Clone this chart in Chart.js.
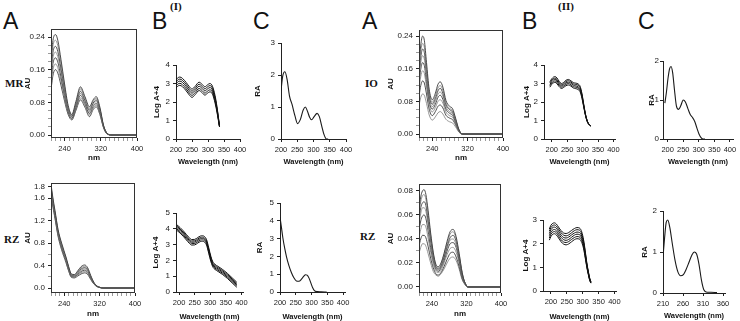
<!DOCTYPE html>
<html>
<head>
<meta charset="utf-8">
<script src="https://cdn.jsdelivr.net/npm/chart.js@4.4.1/dist/chart.umd.min.js"></script>
<style>
  body { margin: 0; background: #fff; }
  #fig { position: relative; width: 740px; height: 321px; overflow: hidden; background: #fff; }
  #fig canvas { position: absolute; }
  .big { position: absolute; font-family: "Liberation Sans", Arial, sans-serif; font-size: 23px; line-height: 23px; color: #111; }
  .tag { position: absolute; font-family: "Liberation Serif", "Times New Roman", serif; font-weight: bold; font-size: 11px; line-height: 11px; color: #111; white-space: nowrap; }
</style>
</head>
<body>
<div id="fig">
  <div class="big" style="left:3px;top:10px">A</div>
  <div class="big" style="left:152px;top:10px">B</div>
  <div class="tag" style="left:170px;top:1px">(I)</div>
  <div class="big" style="left:253px;top:10px">C</div>
  <div class="big" style="left:362px;top:10px">A</div>
  <div class="big" style="left:522px;top:10px">B</div>
  <div class="tag" style="left:558px;top:1px">(II)</div>
  <div class="big" style="left:638px;top:10px">C</div>
  <div class="tag" style="left:5px;top:78px">MR</div>
  <div class="tag" style="left:365px;top:78px">IO</div>
  <div class="tag" style="left:4px;top:234px">RZ</div>
  <div class="tag" style="left:360px;top:231px">RZ</div>
</div>
<script>
// tick labels
const absXTicks = [240, 320, 400];
const nmXTicks = [200, 250, 300, 350, 400];
const rzRaXTicks = [210, 260, 310, 360];
const topAbsYTicks = [0, 0.08, 0.16, 0.24];
const rzAbsYTicks = [0, 0.4, 0.8, 1.2, 1.6, 1.8];
const rz2AbsYTicks = [0, 0.02, 0.04, 0.06, 0.08];

// (I) MR - absorbance spectra
const mrAbsWl = [210, 215, 220, 225, 232, 240, 248, 256, 265, 275, 285, 295, 303, 310, 318, 326, 334, 345, 400];
const mrAbs = [
  [0.190, 0.236, 0.246, 0.232, 0.185, 0.125, 0.072, 0.050, 0.082, 0.118, 0.094, 0.069, 0.086, 0.094, 0.068, 0.024, 0.004, 0, 0],
  [0.177, 0.222, 0.232, 0.219, 0.175, 0.118, 0.068, 0.048, 0.078, 0.113, 0.090, 0.065, 0.082, 0.090, 0.065, 0.023, 0.004, 0, 0],
  [0.164, 0.207, 0.217, 0.205, 0.164, 0.111, 0.065, 0.046, 0.075, 0.107, 0.085, 0.061, 0.078, 0.086, 0.062, 0.022, 0.004, 0, 0],
  [0.151, 0.193, 0.203, 0.192, 0.154, 0.104, 0.061, 0.044, 0.071, 0.102, 0.081, 0.057, 0.074, 0.082, 0.059, 0.021, 0.004, 0, 0],
  [0.138, 0.179, 0.189, 0.179, 0.143, 0.097, 0.057, 0.041, 0.067, 0.097, 0.077, 0.053, 0.070, 0.077, 0.056, 0.020, 0.003, 0, 0],
  [0.125, 0.164, 0.174, 0.165, 0.133, 0.090, 0.054, 0.039, 0.064, 0.091, 0.072, 0.049, 0.066, 0.073, 0.053, 0.019, 0.003, 0, 0],
  [0.112, 0.150, 0.160, 0.152, 0.122, 0.083, 0.050, 0.037, 0.060, 0.086, 0.068, 0.045, 0.062, 0.069, 0.050, 0.018, 0.003, 0, 0]
];
// MR - log A + 4
const mrLogWl = [200, 205, 212, 220, 232, 242, 250, 260, 272, 282, 290, 298, 306, 314, 322, 328, 332, 336];
const mrLog = [
  [3.20, 3.30, 3.35, 3.28, 3.05, 2.82, 2.70, 2.85, 3.07, 2.95, 2.82, 2.92, 3.00, 2.85, 2.35, 1.75, 1.25, 0.70],
  [3.09, 3.19, 3.24, 3.17, 2.94, 2.71, 2.59, 2.74, 2.96, 2.84, 2.71, 2.81, 2.89, 2.74, 2.25, 1.68, 1.20, 0.69],
  [2.98, 3.08, 3.13, 3.06, 2.83, 2.60, 2.48, 2.63, 2.85, 2.73, 2.60, 2.70, 2.78, 2.64, 2.15, 1.60, 1.15, 0.68],
  [2.86, 2.96, 3.01, 2.94, 2.71, 2.48, 2.36, 2.51, 2.73, 2.61, 2.48, 2.58, 2.66, 2.53, 2.05, 1.52, 1.10, 0.66],
  [2.75, 2.85, 2.90, 2.83, 2.60, 2.37, 2.25, 2.40, 2.62, 2.50, 2.37, 2.47, 2.55, 2.42, 1.95, 1.45, 1.05, 0.65]
];
// MR - relative absorbance
const mrRaWl = [200, 205, 212, 219, 226, 234, 243, 251, 260, 268, 275, 282, 288, 294, 302, 311, 318, 325, 333, 340, 345];
const mrRa = [1.50, 1.95, 2.10, 1.85, 1.35, 1.08, 0.72, 0.48, 0.62, 0.90, 1.00, 0.85, 0.68, 0.60, 0.70, 0.80, 0.70, 0.42, 0.12, 0.0, 0.0];

// (I) RZ
const rzAbsWl = [210, 214, 219, 226, 234, 244, 250, 256, 263, 270, 278, 286, 293, 300, 307, 314, 321, 328, 400];
const rzAbs = [
  [1.85, 1.62, 1.38, 1.04, 0.80, 0.55, 0.38, 0.25, 0.24, 0.30, 0.38, 0.41, 0.36, 0.22, 0.10, 0.035, 0.010, 0, 0],
  [1.82, 1.59, 1.36, 1.02, 0.78, 0.53, 0.37, 0.24, 0.23, 0.285, 0.358, 0.387, 0.34, 0.208, 0.095, 0.033, 0.010, 0, 0],
  [1.79, 1.57, 1.33, 1.00, 0.76, 0.52, 0.353, 0.23, 0.22, 0.27, 0.337, 0.363, 0.32, 0.197, 0.090, 0.032, 0.009, 0, 0],
  [1.765, 1.54, 1.31, 0.98, 0.74, 0.50, 0.34, 0.22, 0.21, 0.255, 0.315, 0.34, 0.30, 0.185, 0.085, 0.030, 0.009, 0, 0],
  [1.737, 1.513, 1.287, 0.96, 0.72, 0.483, 0.327, 0.21, 0.20, 0.24, 0.293, 0.317, 0.28, 0.173, 0.080, 0.028, 0.009, 0, 0],
  [1.708, 1.487, 1.263, 0.94, 0.70, 0.467, 0.313, 0.20, 0.19, 0.225, 0.272, 0.293, 0.26, 0.162, 0.075, 0.027, 0.008, 0, 0],
  [1.68, 1.46, 1.24, 0.92, 0.68, 0.45, 0.30, 0.19, 0.18, 0.21, 0.25, 0.27, 0.24, 0.15, 0.070, 0.025, 0.008, 0, 0]
];
const rzLogWl = [193, 203, 213, 223, 232, 240, 250, 260, 268, 275, 282, 288, 295, 302, 309, 315, 325, 340, 355, 370, 385];
const rzLog = [
  [4.25, 4.08, 3.88, 3.65, 3.45, 3.32, 3.33, 3.45, 3.54, 3.56, 3.50, 3.32, 2.80, 2.25, 1.88, 1.75, 1.62, 1.42, 1.18, 0.90, 0.62],
  [4.16, 3.99, 3.79, 3.56, 3.36, 3.23, 3.24, 3.36, 3.45, 3.47, 3.41, 3.23, 2.71, 2.17, 1.80, 1.67, 1.54, 1.34, 1.10, 0.82, 0.54],
  [4.08, 3.91, 3.71, 3.48, 3.28, 3.15, 3.16, 3.28, 3.37, 3.39, 3.33, 3.15, 2.63, 2.09, 1.72, 1.59, 1.46, 1.26, 1.02, 0.74, 0.46],
  [3.99, 3.82, 3.62, 3.39, 3.19, 3.06, 3.07, 3.19, 3.28, 3.30, 3.24, 3.06, 2.54, 2.00, 1.64, 1.51, 1.38, 1.18, 0.94, 0.66, 0.38],
  [3.90, 3.73, 3.53, 3.30, 3.10, 2.97, 2.98, 3.10, 3.19, 3.21, 3.15, 2.97, 2.45, 1.92, 1.56, 1.43, 1.30, 1.10, 0.86, 0.58, 0.30]
];
const rzRaWl = [200, 204, 209, 215, 221, 228, 236, 244, 252, 260, 268, 275, 281, 286, 292, 298, 304, 310, 318, 330, 348];
const rzRa = [4.20, 3.70, 3.05, 2.45, 1.95, 1.50, 1.10, 0.80, 0.62, 0.60, 0.72, 0.88, 0.97, 0.95, 0.78, 0.50, 0.22, 0.06, 0.02, 0.01, 0.0];

// (II) IO
const ioAbsWl = [210, 214, 218, 222, 227, 233, 240, 247, 253, 258, 264, 271, 279, 286, 293, 300, 308, 400];
const ioAbs = [
  [0.170, 0.218, 0.240, 0.230, 0.175, 0.110, 0.084, 0.100, 0.122, 0.128, 0.115, 0.082, 0.068, 0.062, 0.038, 0.012, 0, 0],
  [0.157, 0.202, 0.222, 0.213, 0.162, 0.102, 0.078, 0.093, 0.113, 0.119, 0.107, 0.076, 0.063, 0.058, 0.035, 0.011, 0, 0],
  [0.148, 0.189, 0.208, 0.200, 0.153, 0.096, 0.073, 0.087, 0.106, 0.112, 0.100, 0.072, 0.060, 0.054, 0.033, 0.010, 0, 0],
  [0.136, 0.175, 0.192, 0.184, 0.141, 0.089, 0.067, 0.080, 0.098, 0.103, 0.093, 0.067, 0.055, 0.050, 0.031, 0.010, 0, 0],
  [0.124, 0.159, 0.175, 0.168, 0.129, 0.081, 0.061, 0.073, 0.090, 0.095, 0.085, 0.061, 0.051, 0.046, 0.028, 0.009, 0, 0],
  [0.110, 0.141, 0.155, 0.149, 0.115, 0.072, 0.054, 0.065, 0.080, 0.084, 0.076, 0.054, 0.045, 0.041, 0.025, 0.008, 0, 0],
  [0.093, 0.119, 0.130, 0.125, 0.098, 0.061, 0.045, 0.055, 0.068, 0.071, 0.064, 0.046, 0.039, 0.035, 0.022, 0.007, 0, 0],
  [0.070, 0.090, 0.098, 0.095, 0.075, 0.047, 0.034, 0.042, 0.052, 0.055, 0.049, 0.036, 0.030, 0.027, 0.017, 0.005, 0, 0]
];
const ioLogWl = [194, 200, 206, 211, 217, 224, 232, 238, 246, 254, 262, 270, 278, 285, 292, 298, 304, 310, 316, 322, 326];
const ioLog = [
  [3.10, 3.25, 3.35, 3.37, 3.30, 3.12, 3.00, 3.05, 3.17, 3.22, 3.15, 3.05, 3.02, 2.98, 2.85, 2.45, 1.85, 1.30, 0.95, 0.78, 0.72],
  [3.03, 3.18, 3.27, 3.29, 3.22, 3.05, 2.93, 2.98, 3.10, 3.15, 3.08, 2.98, 2.95, 2.91, 2.78, 2.39, 1.81, 1.28, 0.94, 0.77, 0.72],
  [2.95, 3.10, 3.20, 3.22, 3.15, 2.98, 2.87, 2.92, 3.03, 3.07, 3.01, 2.91, 2.87, 2.83, 2.70, 2.33, 1.78, 1.26, 0.93, 0.77, 0.71],
  [2.88, 3.03, 3.12, 3.14, 3.07, 2.90, 2.80, 2.85, 2.95, 3.00, 2.93, 2.83, 2.80, 2.76, 2.63, 2.26, 1.74, 1.24, 0.91, 0.76, 0.71],
  [2.80, 2.95, 3.04, 3.06, 2.99, 2.83, 2.73, 2.78, 2.88, 2.92, 2.86, 2.76, 2.72, 2.68, 2.55, 2.20, 1.70, 1.22, 0.90, 0.75, 0.70]
];
const ioRaWl = [191, 196, 201, 206, 211, 216, 222, 228, 235, 242, 250, 257, 265, 273, 280, 287, 294, 301, 308, 314, 320];
const ioRa = [0.92, 1.20, 1.55, 1.80, 1.86, 1.70, 1.25, 0.85, 0.76, 0.85, 1.00, 0.95, 0.78, 0.62, 0.55, 0.45, 0.28, 0.12, 0.03, 0.0, 0.0];

// (II) RZ
const rz2AbsWl = [210, 214, 218, 222, 226, 231, 237, 243, 249, 255, 261, 268, 275, 282, 289, 296, 303, 310, 317, 324, 400];
const rz2Abs = [
  [0.064, 0.075, 0.080, 0.081, 0.077, 0.064, 0.045, 0.029, 0.019, 0.017, 0.020, 0.028, 0.038, 0.046, 0.048, 0.042, 0.028, 0.012, 0.003, 0, 0],
  [0.061, 0.071, 0.076, 0.077, 0.073, 0.061, 0.043, 0.028, 0.018, 0.016, 0.019, 0.027, 0.036, 0.044, 0.046, 0.040, 0.027, 0.012, 0.003, 0, 0],
  [0.056, 0.066, 0.070, 0.071, 0.068, 0.056, 0.040, 0.026, 0.017, 0.015, 0.018, 0.025, 0.034, 0.041, 0.043, 0.038, 0.025, 0.011, 0.003, 0, 0],
  [0.052, 0.061, 0.066, 0.066, 0.063, 0.052, 0.037, 0.024, 0.016, 0.014, 0.017, 0.024, 0.032, 0.039, 0.040, 0.035, 0.024, 0.010, 0.003, 0, 0],
  [0.047, 0.055, 0.059, 0.060, 0.057, 0.047, 0.033, 0.022, 0.015, 0.013, 0.016, 0.022, 0.030, 0.036, 0.037, 0.033, 0.022, 0.009, 0.003, 0, 0],
  [0.041, 0.048, 0.052, 0.052, 0.050, 0.041, 0.029, 0.019, 0.013, 0.012, 0.014, 0.020, 0.027, 0.032, 0.033, 0.029, 0.020, 0.008, 0.002, 0, 0],
  [0.034, 0.040, 0.043, 0.043, 0.041, 0.034, 0.024, 0.016, 0.011, 0.010, 0.012, 0.017, 0.023, 0.028, 0.029, 0.025, 0.017, 0.007, 0.002, 0, 0],
  [0.028, 0.033, 0.036, 0.036, 0.034, 0.028, 0.020, 0.013, 0.010, 0.009, 0.011, 0.015, 0.020, 0.024, 0.025, 0.022, 0.015, 0.006, 0.002, 0, 0]
];
const rz2LogWl = [195, 200, 206, 211, 217, 224, 232, 240, 248, 256, 265, 274, 282, 290, 297, 303, 308, 313, 318, 322, 326];
const rz2Log = [
  [2.62, 2.78, 2.86, 2.88, 2.83, 2.70, 2.55, 2.45, 2.43, 2.47, 2.56, 2.64, 2.68, 2.66, 2.50, 2.15, 1.70, 1.20, 0.82, 0.55, 0.40],
  [2.53, 2.68, 2.77, 2.79, 2.74, 2.61, 2.46, 2.36, 2.33, 2.37, 2.46, 2.55, 2.59, 2.57, 2.41, 2.08, 1.64, 1.16, 0.79, 0.53, 0.39],
  [2.43, 2.59, 2.68, 2.70, 2.65, 2.52, 2.36, 2.26, 2.24, 2.28, 2.37, 2.45, 2.49, 2.47, 2.32, 2.00, 1.58, 1.12, 0.76, 0.51, 0.37],
  [2.34, 2.49, 2.58, 2.60, 2.55, 2.42, 2.27, 2.17, 2.14, 2.18, 2.27, 2.36, 2.40, 2.38, 2.23, 1.93, 1.52, 1.08, 0.74, 0.49, 0.36],
  [2.24, 2.40, 2.49, 2.51, 2.46, 2.33, 2.17, 2.07, 2.05, 2.09, 2.18, 2.26, 2.30, 2.28, 2.14, 1.85, 1.46, 1.04, 0.71, 0.47, 0.34],
  [2.15, 2.30, 2.40, 2.42, 2.37, 2.24, 2.08, 1.98, 1.95, 1.99, 2.08, 2.17, 2.21, 2.19, 2.05, 1.78, 1.40, 1.00, 0.68, 0.45, 0.33]
];
const rz2RaWl = [210, 214, 218, 222, 227, 233, 240, 247, 254, 261, 268, 275, 282, 288, 294, 300, 306, 312, 320, 330, 345];
const rz2Ra = [0.88, 1.35, 1.72, 1.78, 1.60, 1.22, 0.80, 0.52, 0.42, 0.45, 0.58, 0.75, 0.92, 1.00, 0.95, 0.70, 0.32, 0.08, 0.02, 0.02, 0.01];

const family = '"Liberation Sans", Arial, sans-serif';
Chart.defaults.font.family = family;
Chart.defaults.color = '#222';

const absColors = ['#3a3a3a', '#8a8a8a'];
const logColors = ['#111'];
const raColors = ['#1a1a1a'];

// box round the absorbance panels
const framePlugin = {
  id: 'frame',
  afterDatasetsDraw(chart, args, opts) {
    if (!opts.on) return;
    const a = chart.chartArea, ctx = chart.ctx;
    ctx.save();
    ctx.strokeStyle = '#333';
    ctx.lineWidth = 1;
    ctx.strokeRect(a.left + 0.5, a.top + 0.5, a.right - a.left - 1, a.bottom - a.top - 1);
    ctx.restore();
  }
};

function isIn(list, v) {
  return list.some(l => Math.abs(l - v) < 1e-7);
}

function tickValues(labels, minor, min, max) {
  const vals = labels.slice();
  if (minor) {
    for (let v = Math.ceil(min / minor) * minor; v <= max + 1e-9; v += minor) {
      const r = +v.toFixed(6);
      if (!isIn(vals, r)) vals.push(r);
    }
  }
  return vals.sort((a, b) => a - b);
}

function makePanel(p) {
  const fig = document.getElementById('fig');
  const padT = 8, padR = 10;
  const cw = p.yW + (p.r - p.l) + padR;
  const ch = padT + (p.b - p.t) + p.xH;
  const cv = document.createElement('canvas');
  cv.width = cw; cv.height = ch;
  cv.style.left = (p.l - p.yW) + 'px';
  cv.style.top = (p.t - padT) + 'px';
  cv.style.width = cw + 'px';
  cv.style.height = ch + 'px';
  fig.appendChild(cv);

  const series = p.single ? [p.series] : p.series;
  const datasets = series.map((ys, i) => ({
    data: p.wl.map((x, j) => ({ x: x, y: ys[j] })),
    borderColor: p.colors[i % p.colors.length],
    borderWidth: p.lw,
    pointRadius: 0,
    fill: false,
    cubicInterpolationMode: 'monotone'
  }));

  const xFont = { size: 7.5, family: family };
  const yFont = { size: 8, family: family };

  new Chart(cv, {
    type: 'line',
    data: { datasets: datasets },
    options: {
      responsive: false,
      animation: false,
      devicePixelRatio: 1,
      layout: { padding: { left: 0, top: padT, right: padR, bottom: 0 } },
      plugins: {
        legend: { display: false },
        tooltip: { enabled: false },
        frame: { on: !!p.box }
      },
      scales: {
        x: {
          type: 'linear',
          min: p.xMin,
          max: p.xMax,
          afterBuildTicks: ax => {
            ax.ticks = tickValues(p.xTicks, p.xMinor, p.xMin, p.xMax).map(v => ({ value: v }));
          },
          afterFit: ax => {
            ax.height = p.xH;
            ax.paddingLeft = 0; ax.paddingRight = 0;
          },
          ticks: {
            autoSkip: false, maxRotation: 0, minRotation: 0, padding: 3,
            color: '#222', font: xFont,
            callback: v => isIn(p.xTicks, v) ? String(v) : ''
          },
          grid: {
            display: true, drawOnChartArea: false, drawTicks: true, tickLength: 3,
            color: '#222',
            tickColor: c => (c.tick && !isIn(p.xTicks, c.tick.value)) ? '#9a9a9a' : '#222'
          },
          border: { display: !p.box, color: '#222', width: 1 },
          title: {
            display: true, text: p.xTitle, color: '#111', padding: 0,
            font: { size: p.xTitleSize, weight: 'bold', family: family }
          }
        },
        y: {
          min: p.yMin,
          max: p.yMax,
          afterBuildTicks: ax => {
            ax.ticks = tickValues(p.yTicks, p.yMinor, p.yMin, p.yMax).map(v => ({ value: v }));
          },
          afterFit: ax => {
            ax.width = p.yW;
            ax.paddingTop = 0; ax.paddingBottom = 0;
          },
          ticks: {
            autoSkip: false, padding: p.yPad === undefined ? 3 : p.yPad,
            color: '#222', font: yFont,
            callback: v => isIn(p.yTicks, v) ? v.toFixed(p.yDigits) : ''
          },
          grid: {
            display: true, drawOnChartArea: false, drawTicks: true, tickLength: 3,
            color: '#222',
            tickColor: c => (c.tick && !isIn(p.yTicks, c.tick.value)) ? '#9a9a9a' : '#222'
          },
          border: { display: !p.box, color: '#222', width: 1 },
          title: {
            display: true, text: p.yTitle, color: '#111', padding: 0,
            font: { size: 8, weight: 'bold', family: family }
          }
        }
      }
    },
    plugins: [framePlugin]
  });
}

const wlTitle = 'Wavelength (nm)';
const panels = [
  // (I) MR
  { l: 51, t: 29, r: 137, b: 138, yW: 28, xH: 25, xMin: 210, xMax: 400, xTicks: absXTicks, xMinor: 10,
    yMin: -0.0073, yMax: 0.2596, yTicks: topAbsYTicks, yMinor: 0.02, yDigits: 2,
    yTitle: 'AU', xTitle: 'nm', xTitleSize: 8, box: true, wl: mrAbsWl, series: mrAbs, colors: absColors, lw: 0.9 },
  { l: 176, t: 65, r: 240, b: 139, yW: 24, xH: 27, xMin: 200, xMax: 400, xTicks: nmXTicks,
    yMin: 0, yMax: 4, yTicks: [0, 1, 2, 3, 4], yDigits: 0,
    yTitle: 'Log A+4', xTitle: wlTitle, xTitleSize: 7.5, wl: mrLogWl, series: mrLog, colors: logColors, lw: 1 },
  { l: 281, t: 43, r: 346, b: 139, yW: 28, xH: 27, xMin: 200, xMax: 400, xTicks: nmXTicks,
    yMin: 0, yMax: 3, yTicks: [0, 1, 2, 3], yDigits: 0,
    yTitle: 'RA', xTitle: wlTitle, xTitleSize: 7.5, wl: mrRaWl, series: mrRa, single: true, colors: raColors, lw: 1.1 },
  // (II) IO
  { l: 419, t: 30, r: 503, b: 138, yW: 33, xH: 25, xMin: 210, xMax: 400, xTicks: absXTicks, xMinor: 10,
    yMin: -0.0098, yMax: 0.255, yTicks: topAbsYTicks, yMinor: 0.02, yDigits: 2,
    yTitle: 'AU', xTitle: 'nm', xTitleSize: 8, box: true, wl: ioAbsWl, series: ioAbs, colors: absColors, lw: 0.9 },
  { l: 544, t: 65, r: 615, b: 139, yW: 22, xH: 27, xMin: 175, xMax: 405, xTicks: nmXTicks,
    yMin: 0, yMax: 4, yTicks: [0, 1, 2, 3, 4], yDigits: 0,
    yTitle: 'Log A+4', xTitle: wlTitle, xTitleSize: 7.5, wl: ioLogWl, series: ioLog, colors: logColors, lw: 1 },
  { l: 663, t: 61, r: 733, b: 139, yW: 16, xH: 27, xMin: 185, xMax: 410, xTicks: nmXTicks,
    yMin: 0, yMax: 2, yTicks: [0, 1, 2], yDigits: 0, yPad: 1,
    yTitle: 'RA', xTitle: wlTitle, xTitleSize: 7.5, wl: ioRaWl, series: ioRa, single: true, colors: raColors, lw: 1.1 },
  // (I) RZ
  { l: 51, t: 183, r: 135, b: 293, yW: 28, xH: 26, xMin: 210, xMax: 400, xTicks: absXTicks, xMinor: 10,
    yMin: -0.089, yMax: 1.87, yTicks: rzAbsYTicks, yMinor: 0.2, yDigits: 1,
    yTitle: 'AU', xTitle: 'nm', xTitleSize: 8, box: true, wl: rzAbsWl, series: rzAbs, colors: absColors, lw: 0.9 },
  { l: 176, t: 213, r: 243, b: 292, yW: 25, xH: 29, xMin: 190, xMax: 405, xTicks: nmXTicks,
    yMin: 0, yMax: 5, yTicks: [0, 1, 2, 3, 4, 5], yDigits: 0,
    yTitle: 'Log A+4', xTitle: wlTitle, xTitleSize: 7.5, wl: rzLogWl, series: rzLog, colors: logColors, lw: 1 },
  { l: 280, t: 203, r: 345, b: 292, yW: 25, xH: 29, xMin: 200, xMax: 406, xTicks: nmXTicks,
    yMin: 0, yMax: 5, yTicks: [0, 1, 2, 3, 4, 5], yDigits: 0,
    yTitle: 'RA', xTitle: wlTitle, xTitleSize: 7.5, wl: rzRaWl, series: rzRa, single: true, colors: raColors, lw: 1.1 },
  // (II) RZ
  { l: 419, t: 184, r: 501, b: 293, yW: 33, xH: 26, xMin: 210, xMax: 400, xTicks: absXTicks, xMinor: 10,
    yMin: -0.005, yMax: 0.0858, yTicks: rz2AbsYTicks, yMinor: 0.01, yDigits: 2,
    yTitle: 'AU', xTitle: 'nm', xTitleSize: 8, box: true, wl: rz2AbsWl, series: rz2Abs, colors: absColors, lw: 0.9 },
  { l: 543, t: 220, r: 616, b: 291, yW: 22, xH: 30, xMin: 175, xMax: 405, xTicks: nmXTicks,
    yMin: 0, yMax: 3, yTicks: [0, 1, 2, 3], yDigits: 0,
    yTitle: 'Log A+4', xTitle: wlTitle, xTitleSize: 7.5, wl: rz2LogWl, series: rz2Log, colors: logColors, lw: 1 },
  { l: 663, t: 211, r: 725, b: 293, yW: 23, xH: 27, xMin: 210, xMax: 365, xTicks: rzRaXTicks,
    yMin: 0, yMax: 2, yTicks: [0, 1, 2], yDigits: 0,
    yTitle: 'RA', xTitle: wlTitle, xTitleSize: 7.5, wl: rz2RaWl, series: rz2Ra, single: true, colors: raColors, lw: 1.1 }
];

panels.forEach(makePanel);
</script>
</body>
</html>
